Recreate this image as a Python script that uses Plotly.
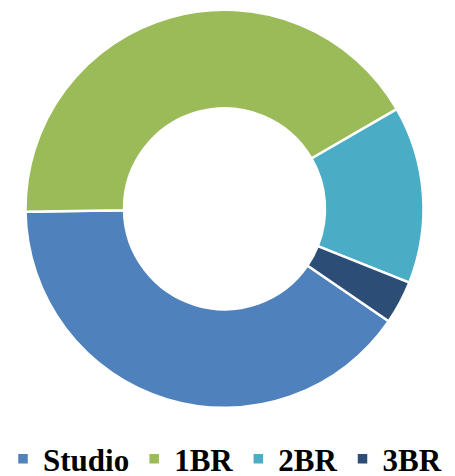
import plotly.graph_objects as go

categories = ["Studio", "1BR", "2BR", "3BR"]
values = [40.2, 41.9, 14.4, 3.5]
colors = ["#4F81BD", "#9BBB59", "#4BACC6", "#2C4D75"]

fig = go.Figure(go.Pie(
    labels=categories,
    values=values,
    hole=0.505,
    sort=False,
    direction="clockwise",
    rotation=124.4,
    marker=dict(colors=colors, line=dict(color="white", width=2.5)),
    textinfo="none",
    hoverinfo="label+percent",
    domain=dict(x=[0.03915, 0.92953], y=[0.14573, 0.99615]),
))

fig.update_layout(
    width=447, height=468,
    margin=dict(l=0, r=0, t=0, b=0, autoexpand=False),
    paper_bgcolor="white",
    plot_bgcolor="white",
    showlegend=True,
    legend=dict(
        orientation="h",
        x=-0.0112, xanchor="left",
        y=-0.0214, yanchor="bottom",
        font=dict(family="Liberation Serif", size=31, color="black", weight="bold"),
        traceorder="normal",
    ),
)

fig.write_html("out.html")
